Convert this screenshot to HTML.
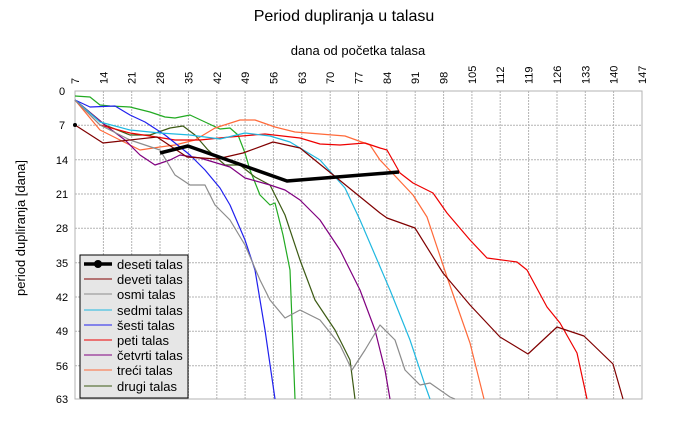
<!DOCTYPE html>
<html><head><meta charset="utf-8"><style>
body{margin:0;background:#fff;}
svg text{font-family:"Liberation Sans",sans-serif;fill:#000;}
</style></head><body>
<svg width="687" height="425" viewBox="0 0 687 425" xmlns="http://www.w3.org/2000/svg">
<text x="344" y="21" font-size="16" text-anchor="middle">Period dupliranja u talasu</text>
<text x="358" y="55" font-size="13" text-anchor="middle">dana od početka talasa</text>
<text x="25" y="228" font-size="13" text-anchor="middle" transform="rotate(-90 25 228)">period dupliranja [dana]</text>
<g stroke="#b3b3b3" stroke-width="1" stroke-dasharray="2,1" fill="none">
<path d="M103.4 91V399M131.7 91V399M160 91V399M188.4 91V399M216.8 91V399M245.1 91V399M273.4 91V399M301.8 91V399M330.2 91V399M358.5 91V399M386.8 91V399M415.2 91V399M443.6 91V399M471.9 91V399M500.2 91V399M528.6 91V399M557 91V399M585.3 91V399M613.6 91V399"/>
<path d="M75 125.3H642M75 159.7H642M75 194H642M75 228.3H642M75 262.7H642M75 297H642M75 331.3H642M75 365.7H642"/>
</g>
<path d="M75 91H642V399H75Z" fill="none" stroke="#b3b3b3"/>
<g font-size="11" text-anchor="middle">
<text x="62" y="95">0</text><text x="62" y="129">7</text><text x="62" y="164">14</text><text x="62" y="198">21</text><text x="62" y="232">28</text><text x="62" y="267">35</text><text x="62" y="301">42</text><text x="62" y="335">49</text><text x="62" y="370">56</text><text x="62" y="403">63</text>
</g>
<g font-size="11" id="xl"></g>
<g fill="none" stroke-width="1.2" stroke-linejoin="round">
<polyline stroke="#22aa22" points="75,96 90,97 100,105 110,106 130,107 150,112 165,117 175,118 190,115 205,122 220,129 230,128 238,135 245,153 250,170 260,195 270,205 275,203 283,235 290,270 295,399"/>
<polyline stroke="#3c5a14" points="75,100 105,125 130,135 150,135 170,128 183,126 195,135 208,150 225,165 240,165 255,177 270,185 285,215 300,260 315,300 335,330 350,360 355,399"/>
<polyline stroke="#ff6a3a" points="75,100 100,130 130,145 140,150 160,147 175,145 195,140 215,128 240,120 255,120 275,127 295,132 320,134 345,136 370,145 380,160 413,195 427,217 447,277 470,343 484,399"/>
<polyline stroke="#800080" points="75,100 105,125 125,140 140,155 155,165 170,160 180,155 200,158 230,167 245,178 270,185 285,190 300,200 320,220 340,250 360,290 375,330 385,370 390,399"/>
<polyline stroke="#ee0000" points="75,100 100,125 130,133 150,136 175,140 200,140 230,137 265,134 300,138 320,144 340,145 365,143 380,148 387,150 400,173 413,183 433,193 447,213 470,240 487,258 517,262 527,270 547,307 560,323 577,353 587,399"/>
<polyline stroke="#2020ee" points="75,100 90,107 115,106 130,115 145,122 165,135 190,155 205,170 220,188 230,205 245,240 255,270 265,330 275,399"/>
<polyline stroke="#20b8e0" points="75,100 100,122 130,130 160,133 190,135 220,139 245,133 270,136 290,142 320,160 345,188 360,220 375,255 390,290 410,340 425,385 430,399"/>
<polyline stroke="#8c8c8c" points="75,100 100,125 130,140 160,150 175,175 190,185 205,185 215,205 230,220 245,245 260,280 270,300 285,318 300,310 320,320 340,345 352,370 365,350 380,325 395,340 405,370 420,385 430,383 450,397 455,399"/>
<polyline stroke="#800000" points="75,125 103,143 157,137 187,157 217,159 243,153 273,142 300,148 380,213 387,218 415,228 443,273 470,305 500,337 528,354 557,327 584,336 613,364 623,399"/>
<circle cx="75" cy="125" r="2" fill="#000" stroke="none"/>
<polyline stroke="#000" stroke-width="3.5" points="160,153 188,146 287,181 399,172"/>
</g>
<rect x="80" y="255" width="108" height="143" fill="#e6e6e6" stroke="#000" stroke-width="1"/>
<g font-size="13">
<line x1="84" y1="264" x2="112" y2="264" stroke="#000" stroke-width="3.5"/><circle cx="98" cy="264" r="4"/>
<text x="117" y="269">deseti talas</text>
<line x1="84" y1="279" x2="112" y2="279" stroke="#800000"/><text x="117" y="284">deveti talas</text>
<line x1="84" y1="294" x2="112" y2="294" stroke="#8c8c8c"/><text x="117" y="299">osmi talas</text>
<line x1="84" y1="310" x2="112" y2="310" stroke="#20b8e0"/><text x="117" y="315">sedmi talas</text>
<line x1="84" y1="325" x2="112" y2="325" stroke="#2020ee"/><text x="117" y="330">šesti talas</text>
<line x1="84" y1="340" x2="112" y2="340" stroke="#ee0000"/><text x="117" y="345">peti talas</text>
<line x1="84" y1="355" x2="112" y2="355" stroke="#800080"/><text x="117" y="360">četvrti talas</text>
<line x1="84" y1="370" x2="112" y2="370" stroke="#ff6a3a"/><text x="117" y="375">treći talas</text>
<line x1="84" y1="386" x2="112" y2="386" stroke="#3c5a14"/><text x="117" y="391">drugi talas</text>
</g>
<g font-size="11">
<text transform="translate(79,84) rotate(-90)">7</text>
<text transform="translate(107.4,84) rotate(-90)">14</text>
<text transform="translate(135.7,84) rotate(-90)">21</text>
<text transform="translate(164,84) rotate(-90)">28</text>
<text transform="translate(192.4,84) rotate(-90)">35</text>
<text transform="translate(220.8,84) rotate(-90)">42</text>
<text transform="translate(249.1,84) rotate(-90)">49</text>
<text transform="translate(277.4,84) rotate(-90)">56</text>
<text transform="translate(305.8,84) rotate(-90)">63</text>
<text transform="translate(334.2,84) rotate(-90)">70</text>
<text transform="translate(362.5,84) rotate(-90)">77</text>
<text transform="translate(390.8,84) rotate(-90)">84</text>
<text transform="translate(419.2,84) rotate(-90)">91</text>
<text transform="translate(447.6,84) rotate(-90)">98</text>
<text transform="translate(475.9,84) rotate(-90)">105</text>
<text transform="translate(504.2,84) rotate(-90)">112</text>
<text transform="translate(532.6,84) rotate(-90)">119</text>
<text transform="translate(561,84) rotate(-90)">126</text>
<text transform="translate(589.3,84) rotate(-90)">133</text>
<text transform="translate(617.6,84) rotate(-90)">140</text>
<text transform="translate(646,84) rotate(-90)">147</text>
</g>
</svg>
</body></html>
